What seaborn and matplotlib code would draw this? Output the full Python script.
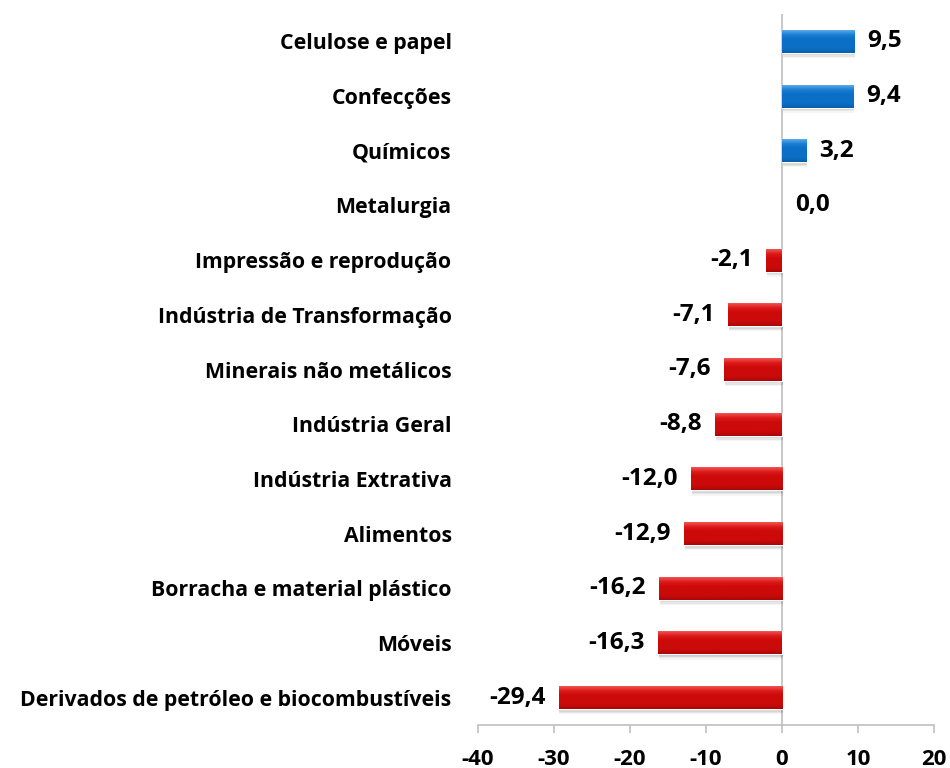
import numpy as np
import pandas as pd
import matplotlib
matplotlib.use("Agg")
import matplotlib.pyplot as plt
import seaborn as sns
from matplotlib.colors import LinearSegmentedColormap

categories = ["Celulose e papel", "Confecções", "Químicos", "Metalurgia",
              "Impressão e reprodução", "Indústria de Transformação",
              "Minerais não metálicos", "Indústria Geral", "Indústria Extrativa",
              "Alimentos", "Borracha e material plástico", "Móveis",
              "Derivados de petróleo e biocombustíveis"]
values = [9.5, 9.4, 3.2, 0.0, -2.1, -7.1, -7.6, -8.8, -12.0, -12.9, -16.2, -16.3, -29.4]
xticks = [-40, -30, -20, -10, 0, 10, 20]

sns.set_theme(style="white")
plt.rcParams['font.family'] = ['Open Sans', 'DejaVu Sans']
plt.rcParams['text.color'] = 'black'
plt.rcParams['xtick.color'] = 'black'
plt.rcParams['ytick.color'] = 'black'

df = pd.DataFrame({"cat": categories, "val": values})
df["sign"] = np.where(df["val"] >= 0, "pos", "neg")

BLUE = "#0B6FC6"
RED = "#CC0A0A"

fig = plt.figure(figsize=(9.5, 7.68), dpi=100)
ax = fig.add_axes([478/950, 1 - 725/768, 456/950, (725 - 14)/768])

sns.barplot(data=df, x="val", y="cat", hue="sign", palette={"pos": BLUE, "neg": RED},
            orient="h", width=0.42, legend=False, ax=ax, saturation=1, zorder=3)

ax.set_xlim(-40, 20)
ax.set_ylim(len(categories) - 0.5, -0.5)

# bevel / shadow effect
cm_blue = LinearSegmentedColormap.from_list("b", ["#5AAAEC", "#1A7FD2", BLUE, BLUE, BLUE, "#0A5EA8"])
cm_red = LinearSegmentedColormap.from_list("r", ["#F25555", "#DD1A1A", RED, RED, RED, "#A80808"])
grad = np.linspace(0, 1, 64).reshape(-1, 1)
for p in list(ax.patches):
    w = p.get_width()
    if abs(w) < 1e-9:
        p.set_visible(False)
        continue
    x0 = p.get_x()
    y0 = p.get_y()
    h = p.get_height()
    xl, xr = min(x0, x0 + w), max(x0, x0 + w)
    # soft shadow (stacked translucent layers)
    for k, a in [(0.02, 0.10), (0.045, 0.08), (0.07, 0.06), (0.095, 0.04)]:
        sh = plt.Rectangle((xl + 0.12, y0 + k), xr - xl, h, facecolor="#000000",
                           alpha=a, edgecolor="none", zorder=2)
        ax.add_patch(sh)
    cmap = cm_blue if w > 0 else cm_red
    im = ax.imshow(grad, cmap=cmap, aspect="auto", extent=(xl, xr, y0 + h, y0),
                   zorder=4, interpolation="bilinear")
    im.set_clip_path(p)

ax.axvline(0, color="#BFBFBF", lw=1.2, zorder=1)

for i, v in enumerate(values):
    label = f"{v:.1f}".replace(".", ",")
    if v >= 0:
        ax.annotate(label, (v, i), xytext=(13, 0), textcoords="offset pixels",
                    ha="left", va="center", fontsize=17.5, fontweight="bold", color="black")
    else:
        ax.annotate(label, (v, i), xytext=(-13, 0), textcoords="offset pixels",
                    ha="right", va="center", fontsize=17.5, fontweight="bold", color="black")

ax.set_xticks(xticks)
ax.set_xticklabels([str(t) for t in xticks], fontsize=16, fontweight="bold", color="black")
ax.set_yticks(range(len(categories)))
ax.set_yticklabels(categories, fontsize=15.3, fontweight="bold", color="black")
ax.set_xlabel("")
ax.set_ylabel("")

for s in ["top", "right", "left"]:
    ax.spines[s].set_visible(False)
ax.spines["bottom"].set_color("#BFBFBF")
ax.spines["bottom"].set_linewidth(1.2)
ax.tick_params(axis="x", direction="out", length=6, width=1.2, color="#BFBFBF",
               labelcolor="black", pad=11, bottom=True)
ax.tick_params(axis="y", length=0, pad=19, labelcolor="black")
ax.grid(False)

fig.savefig("out.png", dpi=100, facecolor="white")
